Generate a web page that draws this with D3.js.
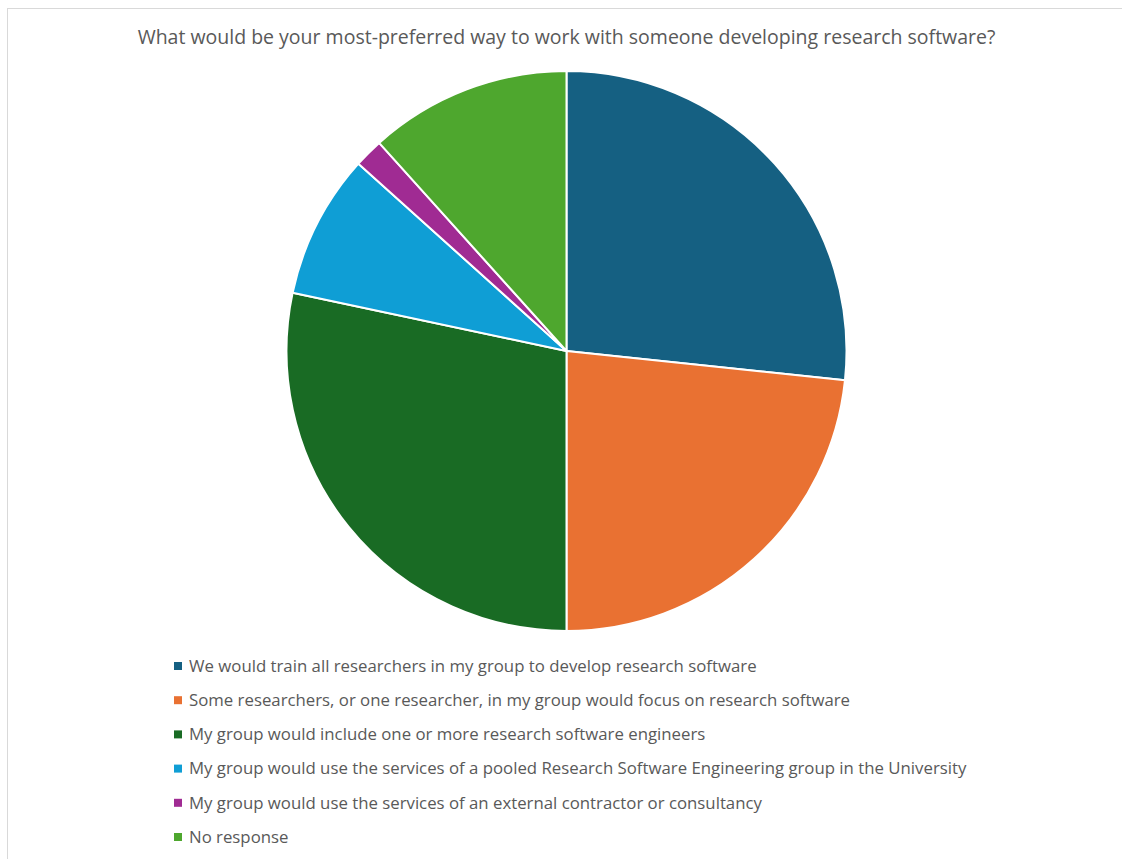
<!DOCTYPE html>
<html>
<head>
<meta charset="utf-8">
<script src="https://cdn.jsdelivr.net/npm/d3@7"></script>
<style>
  html, body { margin: 0; padding: 0; background: #fff; }
  #chart { width: 1122px; height: 859px; }
</style>
</head>
<body>
<div id="chart"></div>
<script>
const TITLE = "What would be your most-preferred way to work with someone developing research software?";

const categories = [
  "We would train all researchers in my group to develop research software",
  "Some researchers, or one researcher, in my group would focus on research software",
  "My group would include one or more research software engineers",
  "My group would use the services of a pooled Research Software Engineering group in the University",
  "My group would use the services of an external contractor or consultancy",
  "No response"
];

const counts = [16, 14, 17, 5, 1, 7];

const colors = ["#156082", "#E97132", "#196B24", "#0F9ED5", "#A02B93", "#4EA72E"];

const FONT = "'Open Sans', 'Noto Sans', sans-serif";

const W = 1122, H = 859;
const cx = 566.5, cy = 351, radius = 280;

const svg = d3.select("#chart")
  .append("svg")
  .attr("width", W)
  .attr("height", H);

// light frame like the original chart area
svg.append("rect")
  .attr("x", 7.5)
  .attr("y", 8.5)
  .attr("width", W + 10)
  .attr("height", H + 10)
  .attr("fill", "#fff")
  .attr("stroke", "#d9d9d9")
  .attr("stroke-width", 1);

svg.append("text")
  .attr("x", cx)
  .attr("y", 44)
  .attr("text-anchor", "middle")
  .attr("font-family", FONT)
  .attr("font-size", "19.5px")
  .attr("fill", "#595959")
  .text(TITLE);

const pie = d3.pie().sort(null).value(d => d);
const arc = d3.arc().innerRadius(0).outerRadius(radius);
const color = d3.scaleOrdinal().domain(d3.range(categories.length)).range(colors);

svg.append("g")
  .attr("transform", `translate(${cx},${cy})`)
  .selectAll("path")
  .data(pie(counts))
  .enter()
  .append("path")
  .attr("d", arc)
  .attr("fill", (d, i) => color(i))
  .attr("stroke", "#fff")
  .attr("stroke-width", 2)
  .attr("stroke-linejoin", "round");

const legendY = d3.scalePoint()
  .domain(d3.range(categories.length))
  .range([666, 837]);

const legend = svg.append("g")
  .selectAll("g")
  .data(categories)
  .enter()
  .append("g")
  .attr("transform", (d, i) => `translate(174,${legendY(i)})`);

legend.append("rect")
  .attr("x", 0)
  .attr("y", -4)
  .attr("width", 8)
  .attr("height", 8)
  .attr("fill", (d, i) => color(i));

legend.append("text")
  .attr("x", 15)
  .attr("y", 0)
  .attr("dy", "0.35em")
  .attr("font-family", FONT)
  .attr("font-size", "16.8px")
  .attr("fill", "#595959")
  .text(d => d);
</script>
</body>
</html>
